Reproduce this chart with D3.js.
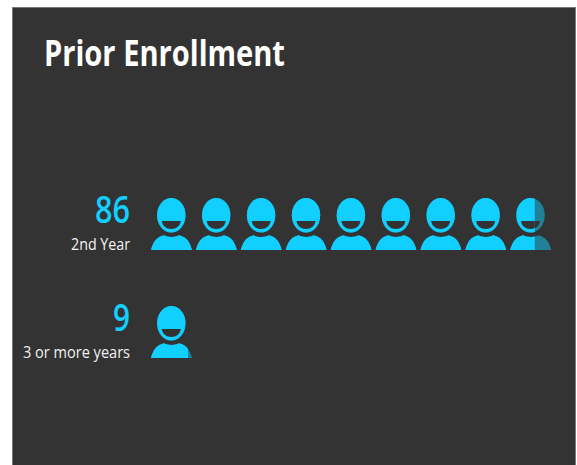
<!DOCTYPE html>
<html>
<head>
<meta charset="utf-8">
<script src="https://d3js.org/d3.v7.min.js"></script>
<style>
  html, body { margin: 0; padding: 0; background: #fff; }
  svg { display: block; }
  text { font-family: "Open Sans", "Noto Sans", sans-serif; }
</style>
</head>
<body>
<svg id="chart" width="577" height="465"></svg>
<script>
const title = "Prior Enrollment";
const categories = ["2nd Year", "3 or more years"];
const values = [86, 9];
const perIcon = 10; // one person stands for 10 units
const maxIcons = 9;

const svg = d3.select("#chart");

/* panel */
svg.append("rect").attr("x", 12.5).attr("y", 7.5).attr("width", 563).attr("height", 460)
  .attr("fill", "#333333").attr("stroke", "#777777");

svg.append("text").attr("x", 44).attr("y", 66)
  .attr("font-size", 36).attr("font-weight", 700).attr("fill", "#ffffff")
  .attr("textLength", 241).attr("lengthAdjust", "spacingAndGlyphs")
  .text(title);

/* scales */
const iconW = 41, iconH = 52;
const x = d3.scaleLinear().domain([0, maxIcons]).range([151, 151 + maxIcons * 44.9]);
const y = d3.scalePoint().domain(categories).range([198, 306]);
const fillX = d3.scaleLinear().domain([0, perIcon]).range([0, iconW]);

/* person icon, drawn in a 41x52 box */
function drawPerson(sel, color, opacity) {
  const p = sel.append("g").attr("opacity", opacity);
  p.append("ellipse").attr("cx", 20.3).attr("cy", 17.2).attr("rx", 14.2).attr("ry", 17.3).attr("fill", color);
  p.append("path").attr("d", "M0,52 C2,44 6,38.5 13,37.3 C17,39.6 24,39.6 28,37.3 C35,38.5 39,44 41,52 Z").attr("fill", color);
  sel.append("path").attr("d", "M10.8,23 L29.8,23 C29.2,27.8 25.4,31 20.3,31 C15.2,31 11.4,27.8 10.8,23 Z").attr("fill", "#333333");
}

const defs = svg.append("defs");

const rows = svg.selectAll("g.row").data(categories).join("g")
  .attr("class", "row")
  .attr("transform", d => `translate(0,${y(d)})`);

rows.each(function (cat, r) {
  const row = d3.select(this);
  const value = values[r];

  row.append("text").attr("x", 130).attr("y", 25).attr("text-anchor", "end")
    .attr("font-size", 38).attr("font-weight", 600).attr("fill", "#11cfff")
    .attr("textLength", value >= 10 ? 35 : 17).attr("lengthAdjust", "spacingAndGlyphs")
    .text(value);
  row.append("text").attr("x", 130).attr("y", 51.5).attr("text-anchor", "end")
    .attr("font-size", 16).attr("fill", "#f2f2f2")
    .attr("textLength", cat.length > 10 ? 107 : 59).attr("lengthAdjust", "spacingAndGlyphs")
    .text(cat);

  d3.range(Math.ceil(value / perIcon)).forEach(i => {
    const share = Math.min(perIcon, value - i * perIcon);
    const id = `clip-${r}-${i}`;
    defs.append("clipPath").attr("id", id).append("rect")
      .attr("x", -1).attr("y", -1).attr("width", fillX(share) + 1).attr("height", iconH + 2);
    const icon = row.append("g").attr("transform", `translate(${x(i)},0)`);
    drawPerson(icon.append("g"), "#11cfff", 0.5);
    drawPerson(icon.append("g").attr("clip-path", `url(#${id})`), "#11cfff", 1);
  });
});
</script>
</body>
</html>
